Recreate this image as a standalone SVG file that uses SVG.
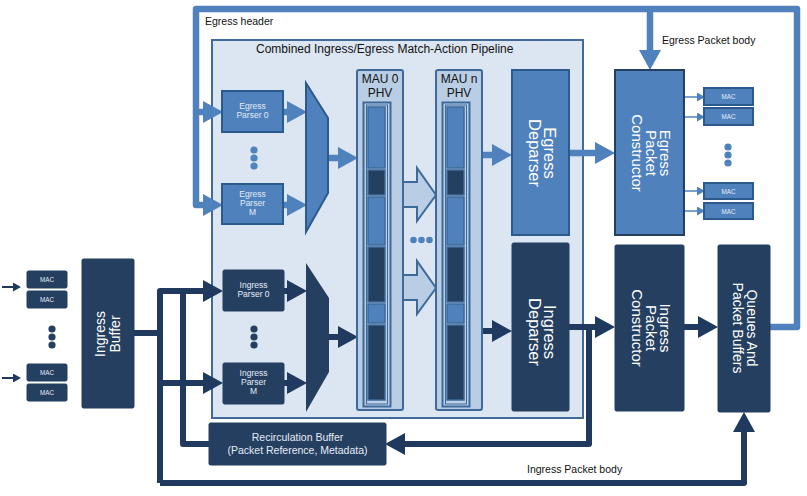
<svg xmlns="http://www.w3.org/2000/svg" width="807" height="496" viewBox="0 0 807 496">
<defs>
<style>
text{font-family:"Liberation Sans",Arial,sans-serif}
.blue{fill:#4f81bd;stroke:#2d5a8c;stroke-width:2}
.dark{fill:#243f60;stroke:#243f60;stroke-width:1}
.lt{fill:#e4ecf6;text-anchor:middle}
.wt{fill:#ffffff;text-anchor:middle}
.bk{fill:#111111;text-anchor:middle}
.eline{fill:none;stroke:#4f81bd;stroke-width:6.5;stroke-linejoin:round}
.iline{fill:none;stroke:#1f3a5e;stroke-width:6;stroke-linejoin:round}
.ea{fill:none;stroke:#4f81bd;stroke-width:6.5;marker-end:url(#hb)}
.ia{fill:none;stroke:#1f3a5e;stroke-width:6;marker-end:url(#hd)}
.mau{fill:#b9cde5;stroke:#3e6a9a;stroke-width:2}
.segb{fill:#4f81bd;stroke:#3e6a9a;stroke-width:1.5}
.segd{fill:#243f60;stroke:#3e6a9a;stroke-width:1.5}
</style>
<marker id="hb" viewBox="0 0 20 22" markerWidth="20" markerHeight="22" refX="0" refY="11" markerUnits="userSpaceOnUse" orient="auto"><path d="M0,0 L20,11 L0,22 z" fill="#4f81bd"/></marker>
<marker id="hd" viewBox="0 0 20 22" markerWidth="20" markerHeight="22" refX="0" refY="11" markerUnits="userSpaceOnUse" orient="auto"><path d="M0,0 L20,11 L0,22 z" fill="#1f3a5e"/></marker>
<marker id="sb" viewBox="0 0 8 9" markerWidth="8" markerHeight="9" refX="0" refY="4.5" markerUnits="userSpaceOnUse" orient="auto"><path d="M0,0 L8,4.5 L0,9 z" fill="#4f81bd"/></marker>
<marker id="sd" viewBox="0 0 8 9" markerWidth="8" markerHeight="9" refX="0" refY="4.5" markerUnits="userSpaceOnUse" orient="auto"><path d="M0,0 L8,4.5 L0,9 z" fill="#1f3a5e"/></marker>
<g id="phvcol">
<rect class="mau" x="0" y="0" width="46" height="340" rx="2"/>
<rect class="mau" x="6.5" y="32.5" width="27" height="304"/>
<rect x="9.5" y="35" width="21" height="299" fill="none" stroke="#3e6a9a" stroke-width="1"/>
<rect class="segb" x="11" y="37" width="17" height="61"/>
<rect class="segd" x="11" y="100" width="17" height="25"/>
<rect class="segb" x="11" y="127" width="17" height="48"/>
<rect class="segd" x="11" y="177" width="17" height="55"/>
<rect class="segb" x="11" y="234" width="17" height="19"/>
<rect class="segd" x="11" y="255" width="17" height="75"/>
</g>
</defs>
<rect x="0" y="0" width="807" height="496" fill="#ffffff"/>

<g id="pipeline">
<rect x="212" y="40" width="371" height="378" fill="#dce6f2" stroke="#41699a" stroke-width="2"/>
<text x="256" y="53" font-size="12" fill="#111">Combined Ingress/Egress Match-Action Pipeline</text>
</g>

<g id="connectors">
<path class="eline" d="M770,327 H797 V9 H196 V205 H203" marker-end="url(#hb)"/>
<path class="ea" d="M196,112 H203"/>
<path class="ea" d="M650,9 V50"/>
<path class="ea" d="M283,112 H287"/>
<path class="ea" d="M283,205 H287"/>
<path class="ea" d="M328,158 H338"/>
<path class="ea" d="M482,155 H492"/>
<path class="ea" d="M569,153 H595"/>
<path d="M684,97 H697" fill="none" stroke="#4f81bd" stroke-width="1.5" marker-end="url(#sb)"/>
<path d="M684,117 H697" fill="none" stroke="#4f81bd" stroke-width="1.5" marker-end="url(#sb)"/>
<path d="M684,191 H697" fill="none" stroke="#4f81bd" stroke-width="1.5" marker-end="url(#sb)"/>
<path d="M684,211 H697" fill="none" stroke="#4f81bd" stroke-width="1.5" marker-end="url(#sb)"/>

<path d="M2,287 H13" fill="none" stroke="#1f3a5e" stroke-width="2" marker-end="url(#sd)"/>
<path d="M2,378 H13" fill="none" stroke="#1f3a5e" stroke-width="2" marker-end="url(#sd)"/>
<path class="iline" d="M134,333 H160"/>
<path class="iline" d="M160,483 V291 H203" marker-end="url(#hd)"/>
<path class="iline" d="M160,483 H744 V432" marker-end="url(#hd)"/>
<path class="ia" d="M160,383 H203"/>
<path class="iline" d="M209,444 H183 V291"/>
<path class="ia" d="M284,291 H287"/>
<path class="ia" d="M284,383 H287"/>
<path class="ia" d="M329,337 H338"/>
<path class="ia" d="M482,331 H492"/>
<path class="ia" d="M569,327 H595"/>
<path class="iline" d="M589,327 V444 H405" marker-end="url(#hd)"/>
<path class="ia" d="M684,327 H698"/>
<polygon points="403,182 417,182 417,168 436,195 417,221 417,207 403,207" fill="#b9cde5" stroke="#3e6a9a" stroke-width="2"/>
<polygon points="403,275 417,275 417,261 436,288 417,314 417,300 403,300" fill="#b9cde5" stroke="#3e6a9a" stroke-width="2"/>
</g>

<g id="labels">
<text x="205" y="25" font-size="10.5" fill="#111">Egress header</text>
<text x="662" y="44" font-size="10.5" fill="#111">Egress Packet body</text>
<text x="527" y="473" font-size="10.5" fill="#111">Ingress Packet body</text>
</g>

<g id="egress-parser-0">
<rect class="blue" x="222" y="91" width="61" height="41"/>
<text class="lt" font-size="8.5" x="252.5" y="108.5">Egress</text>
<text class="lt" font-size="8.5" x="252.5" y="117.5">Parser 0</text>
</g>
<g id="egress-dots">
<circle cx="254" cy="150" r="3.6" fill="#4f81bd"/><circle cx="254" cy="158" r="3.6" fill="#4f81bd"/><circle cx="254" cy="166" r="3.6" fill="#4f81bd"/>
</g>
<g id="egress-parser-m">
<rect class="blue" x="222" y="184" width="61" height="40"/>
<text class="lt" font-size="8.5" x="252.5" y="197">Egress</text>
<text class="lt" font-size="8.5" x="252.5" y="206">Parser</text>
<text class="lt" font-size="8.5" x="252.5" y="215">M</text>
</g>
<g id="egress-mux">
<polygon class="blue" points="306,83 328,118 328,193 306,232"/>
</g>

<g id="ingress-parser-0">
<rect class="dark" x="223" y="270" width="61" height="41" rx="1.5"/>
<text class="lt" font-size="8.5" x="253.5" y="288">Ingress</text>
<text class="lt" font-size="8.5" x="253.5" y="297">Parser 0</text>
</g>
<g id="ingress-dots">
<circle cx="254" cy="329" r="3.6" fill="#243f60"/><circle cx="254" cy="337" r="3.6" fill="#243f60"/><circle cx="254" cy="345" r="3.6" fill="#243f60"/>
</g>
<g id="ingress-parser-m">
<rect class="dark" x="223" y="363" width="61" height="41" rx="1.5"/>
<text class="lt" font-size="8.5" x="253.5" y="376">Ingress</text>
<text class="lt" font-size="8.5" x="253.5" y="385">Parser</text>
<text class="lt" font-size="8.5" x="253.5" y="394">M</text>
</g>
<g id="ingress-mux">
<polygon fill="#243f60" points="306,263 329,298 329,372 306,412"/>
</g>

<g id="mau-0">
<use href="#phvcol" x="357" y="70"/>
<text class="bk" font-size="12" x="380" y="83">MAU 0</text>
<text class="bk" font-size="12" x="380" y="97">PHV</text>
</g>
<g id="mau-dots">
<circle cx="413.5" cy="240" r="3.3" fill="#4f81bd"/><circle cx="421.5" cy="240" r="3.3" fill="#4f81bd"/><circle cx="429.5" cy="240" r="3.3" fill="#4f81bd"/>
</g>
<g id="mau-n">
<use href="#phvcol" x="436" y="70"/>
<text class="bk" font-size="12" x="459" y="83">MAU n</text>
<text class="bk" font-size="12" x="459" y="97">PHV</text>
</g>

<g id="egress-deparser">
<rect class="blue" x="512" y="70" width="57" height="165"/>
<text class="wt" font-size="16.5" transform="translate(540.5,153) rotate(90)"><tspan x="0" y="-3">Egress</tspan><tspan x="0" y="12">Deparser</tspan></text>
</g>
<g id="ingress-deparser">
<rect class="dark" x="512" y="243" width="57" height="168" rx="1.5"/>
<text class="wt" font-size="16.5" transform="translate(540.5,332) rotate(90)"><tspan x="0" y="-3">Ingress</tspan><tspan x="0" y="12">Deparser</tspan></text>
</g>

<g id="egress-packet-constructor">
<rect x="615" y="70" width="69" height="165" fill="#4f81bd" stroke="#243f60" stroke-width="2"/>
<text class="wt" font-size="15" transform="translate(649.5,153) rotate(90)"><tspan x="0" y="-10">Egress</tspan><tspan x="0" y="4">Packet</tspan><tspan x="0" y="18">Constructor</tspan></text>
</g>
<g id="ingress-packet-constructor">
<rect class="dark" x="615" y="245" width="69" height="166" rx="1.5"/>
<text class="wt" font-size="15" transform="translate(649.5,328) rotate(90)"><tspan x="0" y="-10">Ingress</tspan><tspan x="0" y="4">Packet</tspan><tspan x="0" y="18">Constructor</tspan></text>
</g>
<g id="queues">
<rect class="dark" x="718" y="245" width="52" height="167" rx="1.5"/>
<text class="wt" font-size="14" transform="translate(744,328) rotate(90)"><tspan x="0" y="-3">Queues And</tspan><tspan x="0" y="11">Packet Buffers</tspan></text>
</g>

<g id="egress-macs">
<rect class="blue" x="704" y="88" width="49" height="17" stroke-width="1.5"/>
<text class="lt" font-size="6.3" x="728.5" y="99">MAC</text>
<rect class="blue" x="704" y="108" width="49" height="17" stroke-width="1.5"/>
<text class="lt" font-size="6.3" x="728.5" y="119">MAC</text>
<circle cx="728" cy="147" r="3.6" fill="#4f81bd"/><circle cx="728" cy="155" r="3.6" fill="#4f81bd"/><circle cx="728" cy="163" r="3.6" fill="#4f81bd"/>
<rect class="blue" x="704" y="183" width="49" height="16" stroke-width="1.5"/>
<text class="lt" font-size="6.3" x="728.5" y="193.5">MAC</text>
<rect class="blue" x="704" y="203" width="49" height="16" stroke-width="1.5"/>
<text class="lt" font-size="6.3" x="728.5" y="213.5">MAC</text>
</g>

<g id="ingress-macs">
<rect class="dark" x="27" y="271" width="40" height="17" rx="1.5"/>
<text class="lt" font-size="6.3" x="47" y="281.5">MAC</text>
<rect class="dark" x="27" y="291" width="40" height="17" rx="1.5"/>
<text class="lt" font-size="6.3" x="47" y="301.5">MAC</text>
<circle cx="52" cy="329" r="3.6" fill="#243f60"/><circle cx="52" cy="337" r="3.6" fill="#243f60"/><circle cx="52" cy="345" r="3.6" fill="#243f60"/>
<rect class="dark" x="27" y="364" width="40" height="17" rx="1.5"/>
<text class="lt" font-size="6.3" x="47" y="374.5">MAC</text>
<rect class="dark" x="27" y="384" width="40" height="17" rx="1.5"/>
<text class="lt" font-size="6.3" x="47" y="394.5">MAC</text>
</g>

<g id="ingress-buffer">
<rect class="dark" x="82" y="259" width="52" height="149" rx="1.5"/>
<text class="wt" font-size="14" transform="translate(108,334) rotate(-90)"><tspan x="0" y="-3">Ingress</tspan><tspan x="0" y="12">Buffer</tspan></text>
</g>

<g id="recirculation-buffer">
<rect class="dark" x="209" y="423" width="177" height="42" rx="1.5"/>
<text class="lt" font-size="10.5" x="297.5" y="441">Recirculation Buffer</text>
<text class="lt" font-size="10.5" x="297.5" y="453.5">(Packet Reference, Metadata)</text>
</g>
</svg>
